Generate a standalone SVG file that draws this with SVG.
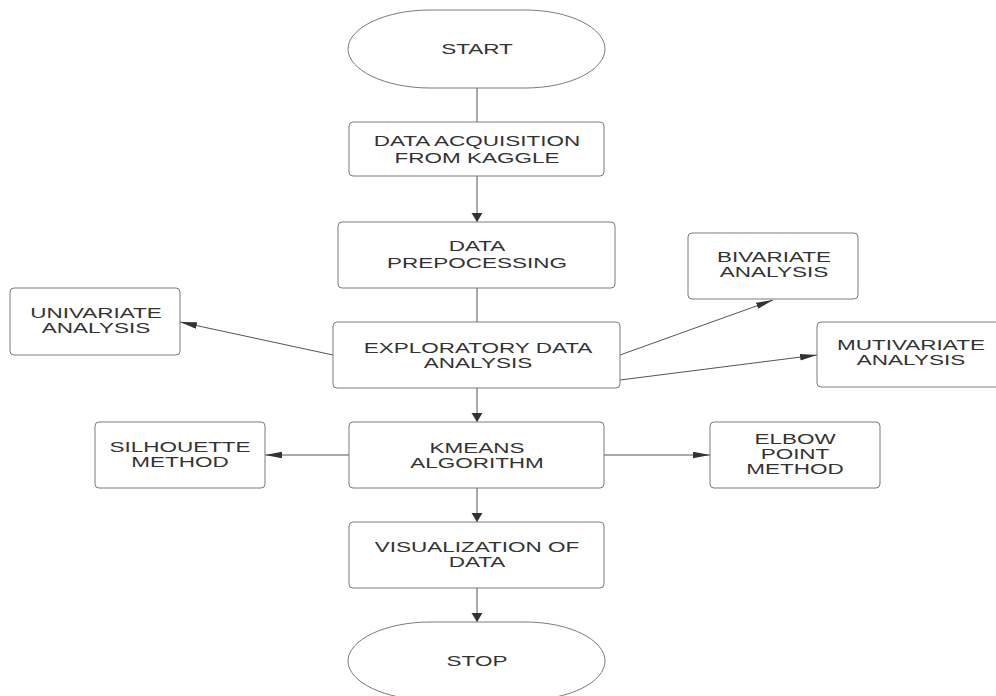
<svg xmlns="http://www.w3.org/2000/svg" width="996" height="696" viewBox="0 0 996 696">
<style>
.n{fill:#fff;stroke:#7a7a7a;stroke-width:1}
.c{stroke:#555;stroke-width:1;fill:none}
.t{font-family:"Liberation Sans",Arial,sans-serif;font-size:15px;fill:#333;text-anchor:middle}
</style>
<defs>
<marker id="av" markerUnits="userSpaceOnUse" markerWidth="10" markerHeight="12" refX="9" refY="5.5" orient="auto"><path d="M0,0 L9,5.5 L0,11 z" fill="#333"/></marker>
<marker id="ah" markerUnits="userSpaceOnUse" markerWidth="18" markerHeight="8" refX="17" refY="3.3" orient="auto"><path d="M0,0 L17,3.3 L0,6.6 z" fill="#333"/></marker>
</defs>
<rect width="996" height="696" fill="#fff"/>
<g id="connectors">
<path class="c" d="M477,88 V122"/>
<path class="c" d="M477,176 V222" marker-end="url(#av)"/>
<path class="c" d="M477,288 V322"/>
<path class="c" d="M333,355 L180,322" marker-end="url(#ah)"/>
<path class="c" d="M620,355 L773,300" marker-end="url(#ah)"/>
<path class="c" d="M620,380 L817,355" marker-end="url(#ah)"/>
<path class="c" d="M477,388 V422" marker-end="url(#av)"/>
<path class="c" d="M349,455 H265" marker-end="url(#ah)"/>
<path class="c" d="M604,455 H710" marker-end="url(#ah)"/>
<path class="c" d="M477,488 V522" marker-end="url(#av)"/>
<path class="c" d="M477,588 V622" marker-end="url(#av)"/>
</g>
<g id="start">
<path class="n" d="M430,10 L525,10 C570,10 605,28 605,49 C605,70 570,88 525,88 L430,88 C385,88 348,70 348,49 C348,28 385,10 430,10 Z"/>
<text class="t" transform="translate(477,54) scale(1.5,1)">START</text>
</g>
<g id="acquisition">
<rect class="n" x="349" y="122" width="255" height="54" rx="4"/>
<text class="t" transform="translate(477,146) scale(1.5,1)">DATA ACQUISITION</text>
<text class="t" transform="translate(477,163) scale(1.5,1)">FROM KAGGLE</text>
</g>
<g id="preprocessing">
<rect class="n" x="338" y="222" width="277" height="66" rx="4"/>
<text class="t" transform="translate(477,251) scale(1.5,1)">DATA</text>
<text class="t" transform="translate(477,268) scale(1.5,1)">PREPOCESSING</text>
</g>
<g id="eda">
<rect class="n" x="333" y="322" width="287" height="66" rx="4"/>
<text class="t" transform="translate(478,353) scale(1.5,1)">EXPLORATORY DATA</text>
<text class="t" transform="translate(478,368) scale(1.5,1)">ANALYSIS</text>
</g>
<g id="univariate">
<rect class="n" x="10" y="288" width="170" height="67" rx="4"/>
<text class="t" transform="translate(96,318) scale(1.5,1)">UNIVARIATE</text>
<text class="t" transform="translate(96,333) scale(1.5,1)">ANALYSIS</text>
</g>
<g id="bivariate">
<rect class="n" x="688" y="233" width="170" height="66" rx="4"/>
<text class="t" transform="translate(774,262) scale(1.5,1)">BIVARIATE</text>
<text class="t" transform="translate(774,277) scale(1.5,1)">ANALYSIS</text>
</g>
<g id="multivariate">
<rect class="n" x="817" y="322" width="200" height="65" rx="4"/>
<text class="t" transform="translate(911,350) scale(1.5,1)">MUTIVARIATE</text>
<text class="t" transform="translate(911,365) scale(1.5,1)">ANALYSIS</text>
</g>
<g id="kmeans">
<rect class="n" x="349" y="422" width="255" height="66" rx="4"/>
<text class="t" transform="translate(477,453) scale(1.5,1)">KMEANS</text>
<text class="t" transform="translate(477,468) scale(1.5,1)">ALGORITHM</text>
</g>
<g id="silhouette">
<rect class="n" x="95" y="422" width="170" height="66" rx="4"/>
<text class="t" transform="translate(180,452) scale(1.5,1)">SILHOUETTE</text>
<text class="t" transform="translate(180,467) scale(1.5,1)">METHOD</text>
</g>
<g id="elbow">
<rect class="n" x="710" y="422" width="170" height="66" rx="4"/>
<text class="t" transform="translate(795,444) scale(1.5,1)">ELBOW</text>
<text class="t" transform="translate(795,459) scale(1.5,1)">POINT</text>
<text class="t" transform="translate(795,474) scale(1.5,1)">METHOD</text>
</g>
<g id="visualization">
<rect class="n" x="349" y="522" width="255" height="66" rx="4"/>
<text class="t" transform="translate(477,552) scale(1.5,1)">VISUALIZATION OF</text>
<text class="t" transform="translate(477,567) scale(1.5,1)">DATA</text>
</g>
<g id="stop">
<path class="n" d="M430,622 L525,622 C570,622 605,640 605,661 C605,682 570,700 525,700 L430,700 C385,700 348,682 348,661 C348,640 385,622 430,622 Z"/>
<text class="t" transform="translate(477,666) scale(1.5,1)">STOP</text>
</g>
</svg>
